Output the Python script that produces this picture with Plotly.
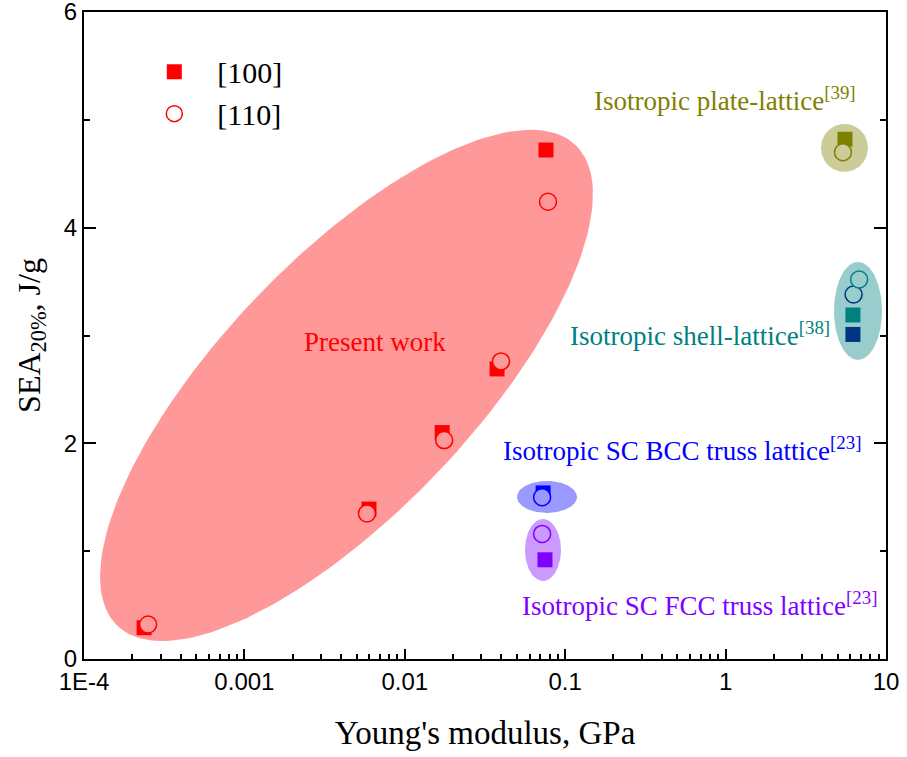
import numpy as np
import plotly.graph_objects as go

# ---------------- data ----------------
E100 = [2.37e-4, 5.98e-3, 0.0171, 0.0376, 0.0759]
S100 = [0.29, 1.39, 2.10, 2.69, 4.72]
E110 = [2.51e-4, 5.81e-3, 0.0176, 0.0398, 0.0781]
S110 = [0.32, 1.35, 2.03, 2.76, 4.24]

plate_sq_E, plate_sq_S = [5.55], [4.82]
plate_ci_E, plate_ci_S = [5.39], [4.70]

shell_teal_ci_E, shell_teal_ci_S = [6.8], [3.52]
shell_navy_ci_E, shell_navy_ci_S = [6.28], [3.38]
shell_teal_sq_E, shell_teal_sq_S = [6.22], [3.19]
shell_navy_sq_E, shell_navy_sq_S = [6.22], [3.01]

bcc_sq_E, bcc_sq_S = [0.0728], [1.54]
bcc_ci_E, bcc_ci_S = [0.0718], [1.50]

fcc_ci_E, fcc_ci_S = [0.0718], [1.16]
fcc_sq_E, fcc_sq_S = [0.0748], [0.92]

# cluster ellipses: centre E, centre SEA
ell_names = ["present", "plate", "shell", "bcc", "fcc"]
ell_cE = [0.00433, 5.51, 6.69, 0.0770, 0.0727]
ell_cS = [2.537, 4.74, 3.228, 1.503, 1.011]

xtick_vals = [1e-4, 1e-3, 1e-2, 1e-1, 1, 10]
xtick_text = ["1E-4", "0.001", "0.01", "0.1", "1", "10"]
ytick_vals = [0, 2, 4, 6]

# ---------------- layout geometry ----------------
W, H = 907, 757
ML, MR, MT, MB = 84, 21, 12, 98
PW, PH = W - ML - MR, H - MT - MB
XR = [-4, 1]
YR = [0, 6]
DEC_PX = PW / (XR[1] - XR[0])
UNIT_PX = PH / (YR[1] - YR[0])

# ellipse shapes (semi-axes in px, rotation in deg)
ell_a = [332, 23.5, 24, 30, 18]
ell_b = [126, 24, 49, 16, 31]
ell_ang = [46.4, 0, 0, 0, 0]
ell_col = ["rgba(255,0,0,0.4)", "rgba(128,128,0,0.4)", "rgba(0,128,128,0.4)",
           "rgba(0,0,255,0.4)", "rgba(128,0,255,0.4)"]


def ellipse_pts(cE, cS, a, b, ang):
    t = np.linspace(0, 2 * np.pi, 200)
    th = np.deg2rad(ang)
    dx = a * np.cos(t) * np.cos(th) - b * np.sin(t) * np.sin(th)
    dy = a * np.cos(t) * np.sin(th) + b * np.sin(t) * np.cos(th)
    xs = 10 ** (np.log10(cE) + dx / DEC_PX)
    ys = cS + dy / UNIT_PX
    return xs, ys


RED = "#FF0000"
OLIVE = "#808000"
TEAL = "#008080"
NAVY = "#000080"
BLUE = "#0000FF"
VIOLET = "#8000FF"

SQ = 15
CI = 17
LW = 1.5

fig = go.Figure()


def sq(x, y, c, name=None, legend=False):
    fig.add_trace(go.Scatter(x=x, y=y, mode="markers", name=name, showlegend=legend,
                             marker=dict(symbol="square", size=SQ, color=c,
                                         line=dict(width=0))))


def ci(x, y, c, name=None, legend=False):
    fig.add_trace(go.Scatter(x=x, y=y, mode="markers", name=name, showlegend=legend,
                             marker=dict(symbol="circle", size=CI, color="white",
                                         line=dict(width=LW, color=c))))


sq(E100, S100, RED, "[100]", True)
ci(E110, S110, RED, "[110]", True)
sq(plate_sq_E, plate_sq_S, OLIVE)
ci(plate_ci_E, plate_ci_S, OLIVE)
sq(shell_navy_sq_E, shell_navy_sq_S, NAVY)
sq(shell_teal_sq_E, shell_teal_sq_S, TEAL)
ci(shell_navy_ci_E, shell_navy_ci_S, NAVY)
ci(shell_teal_ci_E, shell_teal_ci_S, TEAL)
sq(bcc_sq_E, bcc_sq_S, BLUE)
ci(bcc_ci_E, bcc_ci_S, BLUE)
ci(fcc_ci_E, fcc_ci_S, VIOLET)
sq(fcc_sq_E, fcc_sq_S, VIOLET)

for i in range(len(ell_names)):
    xs, ys = ellipse_pts(ell_cE[i], ell_cS[i], ell_a[i], ell_b[i], ell_ang[i])
    fig.add_trace(go.Scatter(x=xs, y=ys, mode="lines", fill="toself",
                             fillcolor=ell_col[i], line=dict(width=0),
                             showlegend=False, hoverinfo="skip"))

SERIF = "Liberation Serif, Times New Roman, serif"
SANS = "Liberation Sans, Arial, sans-serif"
ANN = 27

annots = [
    ("Present work", RED, 0.363, 0.490),
    ("Isotropic plate-lattice<sup>[39]</sup>", OLIVE, 0.799, 0.866),
    ("Isotropic shell-lattice<sup>[38]</sup>", TEAL, 0.768, 0.503),
    ("Isotropic SC BCC truss lattice<sup>[23]</sup>", BLUE, 0.746, 0.325),
    ("Isotropic SC FCC truss lattice<sup>[23]</sup>", VIOLET, 0.767, 0.085),
]
for txt, col, ax, ay in annots:
    fig.add_annotation(text=txt, x=ax, y=ay, xref="paper", yref="paper",
                       showarrow=False, xanchor="center", yanchor="middle",
                       font=dict(family=SERIF, size=ANN, color=col))

minor_x = [k * 10.0 ** e for e in range(-4, 1) for k in range(2, 10)]

fig.update_xaxes(
    type="log", range=XR, tickvals=xtick_vals, ticktext=xtick_text,
    ticks="inside", ticklen=10, tickwidth=1.5, tickcolor="black",
    showline=True, linewidth=2, linecolor="black", mirror=True,
    showgrid=False, zeroline=False, automargin=False,
    ticklabeloverflow="allow",
    tickfont=dict(family=SANS, size=24, color="black"),
    minor=dict(tickvals=minor_x, ticks="inside", ticklen=5, tickwidth=1.5,
               tickcolor="black", showgrid=False),
    title=dict(text="Young's modulus, GPa", font=dict(family=SERIF, size=33, color="black"),
               standoff=27),
)
fig.update_yaxes(
    range=YR, tickvals=ytick_vals,
    ticks="inside", ticklen=12, tickwidth=1.5, tickcolor="black",
    showline=True, linewidth=2, linecolor="black", mirror="ticks",
    showgrid=False, zeroline=False, automargin=False,
    ticklabeloverflow="allow",
    tickfont=dict(family=SANS, size=24, color="black"),
    minor=dict(dtick=1, ticks="inside", ticklen=6, tickwidth=1.5,
               tickcolor="black", showgrid=False),
    title=dict(text="SEA<sub>20%</sub>, J/g", font=dict(family=SERIF, size=32, color="black"),
               standoff=14),
)

fig.update_layout(
    width=W, height=H,
    margin=dict(l=ML, r=MR, t=MT, b=MB),
    plot_bgcolor="white", paper_bgcolor="white",
    legend=dict(x=0.059, y=0.948, xanchor="left", yanchor="top",
                bgcolor="rgba(0,0,0,0)", borderwidth=0,
                font=dict(family=SERIF, size=30, color="black"),
                itemwidth=76, tracegroupgap=0),
)

fig.write_html("out.html")
